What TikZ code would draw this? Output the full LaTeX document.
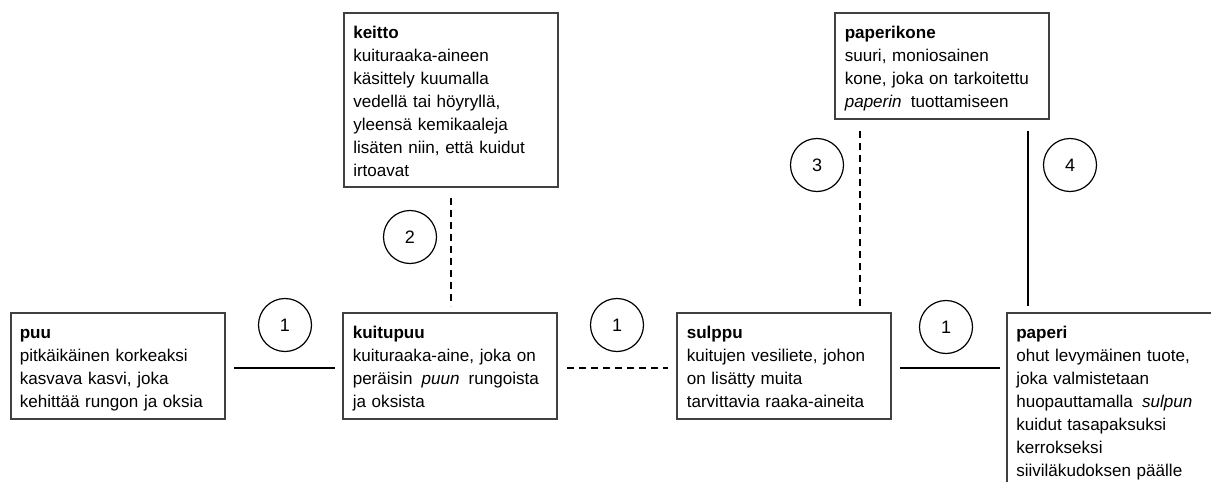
\documentclass[tikz,border=0pt]{standalone}
\usepackage{fontspec}
\setmainfont{Liberation Sans}
\usetikzlibrary{calc}
\definecolor{boxgray}{HTML}{404040}
\tikzset{
 boxnode/.style={draw=boxgray, line width=1.1pt, inner sep=0pt, outer sep=0pt, anchor=north west, minimum width=160.5pt},
 txt/.style={anchor=north west, inner sep=0pt, text width=175pt, align=left, font=\fontsize{12.8}{17.25}\selectfont},
 numc/.style={draw, circle, line width=0.9pt, minimum size=39.75pt, inner sep=0pt, font=\fontsize{13.5}{15}\selectfont},
 conn/.style={line width=1pt},
 dconn/.style={conn, dash pattern=on 5.25pt off 3.75pt},
}
\newcommand{\itw}[1]{\hspace{0.2em}\textit{#1}\hspace{0.2em}}
\begin{document}
\begin{tikzpicture}[x=0.75pt,y=-0.75pt]
\useasboundingbox (0,0) rectangle (1211,482);
\clip (0,0) rectangle (1211,482);
% boxes
\node[boxnode, minimum height=79.5pt] (puu) at (11,313) {};
\node[boxnode, minimum height=79.5pt] (kuitupuu) at (343,313) {};
\node[boxnode, minimum height=79.5pt] (sulppu) at (677,313) {};
\node[boxnode, minimum height=132pt] (paperi) at (1007,313) {};
\node[boxnode, minimum height=130.5pt] (keitto) at (344,13) {};
\node[boxnode, minimum height=79.5pt] (paperikone) at (835,13) {};
% texts
\node[txt] (puutxt) at ($(puu.north west)+(8.5,9)$) {\strut\textbf{puu}\\pitkäikäinen korkeaksi\\kasvava kasvi, joka\\kehittää rungon ja oksia};
\node[txt] (kuitupuutxt) at ($(kuitupuu.north west)+(9.5,9)$) {\strut\textbf{kuitupuu}\\kuituraaka-aine, joka on\\peräisin \itw{puun} rungoista\\ja oksista};
\node[txt] (sulpputxt) at ($(sulppu.north west)+(9.5,9)$) {\strut\textbf{sulppu}\\kuitujen vesiliete, johon\\on lisätty muita\\tarvittavia raaka-aineita};
\node[txt] (papertxt) at ($(paperi.north west)+(9,9)$) {\strut\textbf{paperi}\\ohut levymäinen tuote,\\joka valmistetaan\\huopauttamalla \itw{sulpun}\\kuidut tasapaksuksi\\kerrokseksi\\siiviläkudoksen päälle};
\node[txt] (keittotxt) at ($(keitto.north west)+(9,9)$) {\strut\textbf{keitto}\\kuituraaka-aineen\\käsittely kuumalla\\vedellä tai höyryllä,\\yleensä kemikaaleja\\lisäten niin, että kuidut\\irtoavat};
\node[txt] (paperikonetxt) at ($(paperikone.north west)+(9.5,9)$) {\strut\textbf{paperikone}\\suuri, moniosainen\\kone, joka on tarkoitettu\\\textit{paperin}\hspace{0.2em} tuottamiseen};
% connectors
\draw[conn, shorten <=6.75pt, shorten >=6pt] ([yshift=-1.5pt]puu.east) -- ([yshift=-1.5pt]kuitupuu.west);
\draw[dconn, shorten <=7.5pt, shorten >=6.75pt] ([yshift=-1.5pt]kuitupuu.east) -- ([yshift=-1.5pt]sulppu.west);
\draw[conn, shorten <=6.75pt, shorten >=5.25pt] ([yshift=-1.5pt]sulppu.east) -- ([yshift=-1.5pt]sulppu.east -| paperi.west);
\draw[dconn, shorten <=8.25pt, shorten >=5.25pt] (keitto.south) -- (keitto.south |- kuitupuu.north);
\draw[dconn, shorten <=9pt, shorten >=5.25pt] ($(paperikone.south west)+(25,0)$) -- ($(paperikone.south west |- sulppu.north)+(25,0)$);
\draw[conn, shorten <=9pt, shorten >=5.25pt] ($(paperikone.south west)+(193,0)$) -- ($(paperikone.south west |- paperi.north)+(193,0)$);
% numbers
\node[numc] (n1a) at (285,325) {1};
\node[numc] (n1b) at (617,325) {1};
\node[numc] (n1c) at (946,327) {1};
\node[numc] (n2) at (410,237) {2};
\node[numc] (n3) at (817,165) {3};
\node[numc] (n4) at (1070,165) {4};
\end{tikzpicture}
\end{document}
